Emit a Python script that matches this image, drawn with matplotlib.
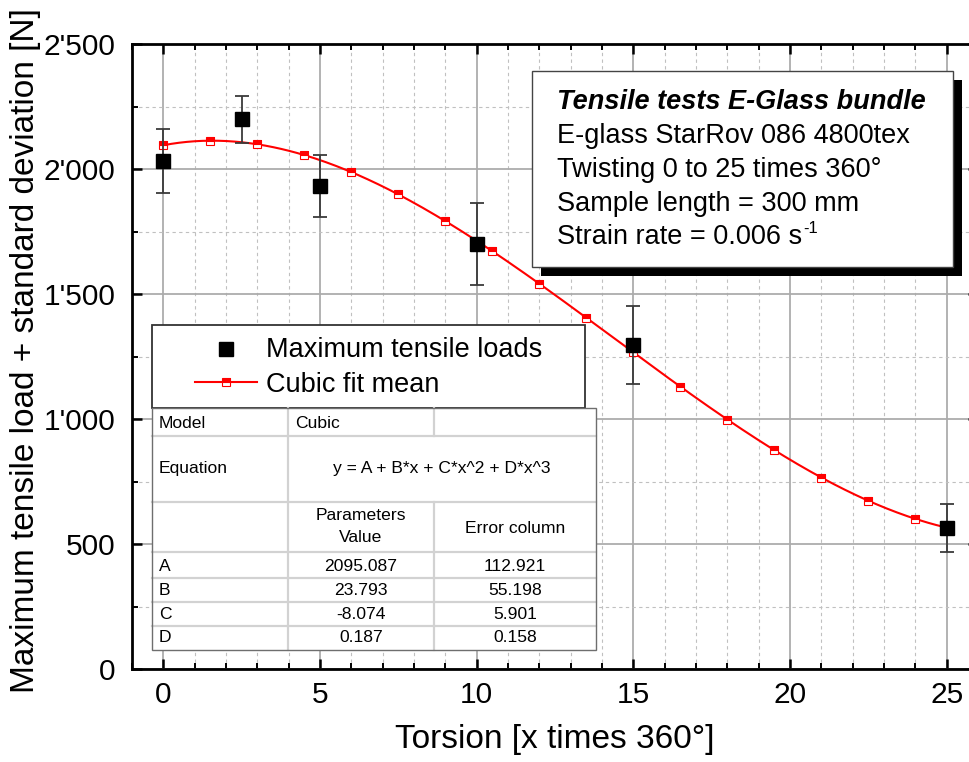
import numpy as np
import matplotlib
matplotlib.use("Agg")
import matplotlib.pyplot as plt
from matplotlib.patches import Rectangle
from matplotlib.lines import Line2D
from matplotlib.ticker import MultipleLocator, FuncFormatter

plt.rcParams["font.family"] = ["Liberation Sans", "DejaVu Sans"]

# Measured maximum tensile loads and standard deviations
torsion = [0, 2.5, 5, 10, 15, 25]
max_load = [2033, 2199, 1932, 1701, 1296, 563]
load_std = [127, 94, 124, 164, 155, 96]

# Cubic fit y = A + B*x + C*x^2 + D*x^3
param_names = ["A", "B", "C", "D"]
param_values = [2095.087, 23.793, -8.074, 0.187]
param_errors = [112.921, 55.198, 5.901, 0.158]

info_title = "Tensile tests E-Glass bundle"
info_lines = ["E-glass StarRov 086 4800tex",
              "Twisting 0 to 25 times 360°",
              "Sample length = 300 mm",
              "Strain rate = 0.006 s"]
rate_exponent = "-1"

W, H = 969, 762
fig = plt.figure(figsize=(W / 100, H / 100), dpi=100)
ax = fig.add_axes([132 / W, 1 - 669 / H, 846 / W, 625 / H])


def fx(x):
    return x / W


def fy(y):
    return 1 - y / H


def cubic(x):
    a, b, c, d = param_values
    return a + b * x + c * x ** 2 + d * x ** 3


# Grid
ax.set_xlim(-1, 26)
ax.set_ylim(0, 2500)
ax.xaxis.set_major_locator(MultipleLocator(5))
ax.xaxis.set_minor_locator(MultipleLocator(1))
ax.yaxis.set_major_locator(MultipleLocator(500))
ax.yaxis.set_minor_locator(MultipleLocator(250))
ax.set_axisbelow(True)
ax.grid(which="major", color="#acacac", lw=1.3, ls="-")
ax.grid(which="minor", color="#c0c0c0", lw=0.8, ls=(0, (3, 3)))

# Fit curve with markers every 1.5 turns
x_fit = np.linspace(0, 25, 300)
ax.plot(x_fit, cubic(x_fit), color="red", lw=1.5, zorder=3)
x_mark = np.arange(0, 24.1, 1.5)
ax.plot(x_mark, cubic(x_mark), ls="none", marker="s", ms=5.6,
        fillstyle="top", markerfacecolor="red", markerfacecoloralt="white",
        markeredgecolor="red", mew=0.8, zorder=4)

# Measurements with error bars
ax.errorbar(torsion, max_load, yerr=load_std, fmt="s", color="black",
            ms=10, ecolor="#3a3a3a", elinewidth=1.3, capsize=4.8,
            capthick=1.3, zorder=5)

# Axes styling
for sp in ax.spines.values():
    sp.set_linewidth(2)
ax.tick_params(which="both", direction="in", top=True, right=True)
ax.tick_params(which="major", length=7.5, width=1.8, labelsize=21.5)
ax.tick_params(axis="x", which="major", pad=8.5)
ax.tick_params(axis="y", which="major", pad=12)
ax.tick_params(which="minor", length=4.5, width=1.4)
ax.yaxis.set_major_formatter(
    FuncFormatter(lambda v, p: f"{int(v):,}".replace(",", "'")))

ax.set_xlabel("Torsion [x times 360°]", fontsize=24)
ax.set_ylabel("Maximum tensile load + standard deviation [N]", fontsize=24)
ax.xaxis.set_label_coords(0.5, -0.088)
ax.yaxis.set_label_coords(-0.107, 0.51)

# Info box with drop shadow
bx0, by0, bx1, by1 = 532, 71, 953, 267
sh = 9
fig.add_artist(Rectangle((fx(bx0 + sh), fy(by1 + sh)), (bx1 - bx0) / W,
                         (by1 - by0) / H, transform=fig.transFigure,
                         facecolor="black", edgecolor="none", zorder=5))
fig.add_artist(Rectangle((fx(bx0), fy(by1)), (bx1 - bx0) / W,
                         (by1 - by0) / H, transform=fig.transFigure,
                         facecolor="white", edgecolor="#444444", lw=1.0,
                         zorder=6))
fig.text(fx(557), fy(109), info_title, fontsize=19.5, fontweight="bold",
         fontstyle="italic", va="baseline", ha="left", zorder=7)
info_texts = []
for i, line in enumerate(info_lines):
    info_texts.append(fig.text(fx(557), fy(143 + 33.8 * i), line,
                               fontsize=19.5, va="baseline", ha="left",
                               zorder=7))

# Superscript exponent placed right after the last info line
fig.canvas.draw()
last_bb = info_texts[-1].get_window_extent()
fig.text((last_bb.x1 + 1) / W, fy(143 + 33.8 * 3 - 11), rate_exponent,
         fontsize=12, va="baseline", ha="left", zorder=7)

# Legend
lx0, ly0, lx1, ly1 = 152, 325, 585, 408
fig.add_artist(Rectangle((fx(lx0), fy(ly1)), (lx1 - lx0) / W,
                         (ly1 - ly0) / H, transform=fig.transFigure,
                         facecolor="white", edgecolor="#333333", lw=1.3,
                         zorder=6))
fig.add_artist(Line2D([fx(226)], [fy(349)], transform=fig.transFigure,
                      marker="s", ms=10, color="black", ls="none", zorder=7))
fig.add_artist(Line2D([fx(195), fx(257)], [fy(382), fy(382)],
                      transform=fig.transFigure, color="red", lw=1.5,
                      zorder=7))
fig.add_artist(Line2D([fx(226)], [fy(382)], transform=fig.transFigure,
                      marker="s", ms=5.6, ls="none", fillstyle="top",
                      markerfacecolor="red", markerfacecoloralt="white",
                      markeredgecolor="red", mew=0.8, zorder=8))
fig.text(fx(266), fy(357), "Maximum tensile loads", fontsize=19.5,
         va="baseline", zorder=8)
fig.text(fx(266), fy(391.5), "Cubic fit mean", fontsize=19.5,
         va="baseline", zorder=8)

# Fit parameter table
tx0, tx1, tx2, tx3 = 152, 288, 434, 596
rows = [408, 436, 502, 552, 578, 602, 626, 650]
fig.add_artist(Rectangle((fx(tx0), fy(rows[-1])), (tx3 - tx0) / W,
                         (rows[-1] - rows[0]) / H, transform=fig.transFigure,
                         facecolor="white", edgecolor="none", zorder=6))
inner = dict(transform=fig.transFigure, color="#d2d2d2", lw=1.6, zorder=7)
for r in rows[1:-1]:
    fig.add_artist(Line2D([fx(tx0), fx(tx3)], [fy(r), fy(r)], **inner))
fig.add_artist(Line2D([fx(tx1), fx(tx1)], [fy(rows[0]), fy(rows[-1])], **inner))
fig.add_artist(Line2D([fx(tx2), fx(tx2)], [fy(rows[0]), fy(rows[1])], **inner))
fig.add_artist(Line2D([fx(tx2), fx(tx2)], [fy(rows[2]), fy(rows[-1])], **inner))
fig.add_artist(Rectangle((fx(tx0), fy(rows[-1])), (tx3 - tx0) / W,
                         (rows[-1] - rows[0]) / H, transform=fig.transFigure,
                         facecolor="none", edgecolor="#6e6e6e", lw=1.0,
                         zorder=8))

tfs = 12.6
c2 = (tx1 + tx2) / 2
c3 = (tx2 + tx3) / 2
fig.text(fx(159), fy(428.3), "Model", fontsize=tfs, va="baseline", zorder=9)
fig.text(fx(295), fy(428.3), "Cubic", fontsize=tfs, va="baseline", zorder=9)
fig.text(fx(159), fy(473.3), "Equation", fontsize=tfs, va="baseline", zorder=9)
fig.text(fx((tx1 + tx3) / 2), fy(473.3), "y = A + B*x + C*x^2 + D*x^3",
         fontsize=tfs, va="baseline", ha="center", zorder=9)
fig.text(fx(c2), fy(520), "Parameters", fontsize=tfs, va="baseline",
         ha="center", zorder=9)
fig.text(fx(c2), fy(541.7), "Value", fontsize=tfs, va="baseline",
         ha="center", zorder=9)
fig.text(fx(c3), fy(533.3), "Error column", fontsize=tfs, va="baseline",
         ha="center", zorder=9)
row_base = [571, 595, 619, 642.3]
for name, val, err, yb in zip(param_names, param_values, param_errors,
                              row_base):
    fig.text(fx(159), fy(yb), name, fontsize=tfs, va="baseline", zorder=9)
    fig.text(fx(c2), fy(yb), f"{val:.3f}", fontsize=tfs, va="baseline",
             ha="center", zorder=9)
    fig.text(fx(c3), fy(yb), f"{err:.3f}", fontsize=tfs, va="baseline",
             ha="center", zorder=9)

fig.savefig("out.png", dpi=100)
